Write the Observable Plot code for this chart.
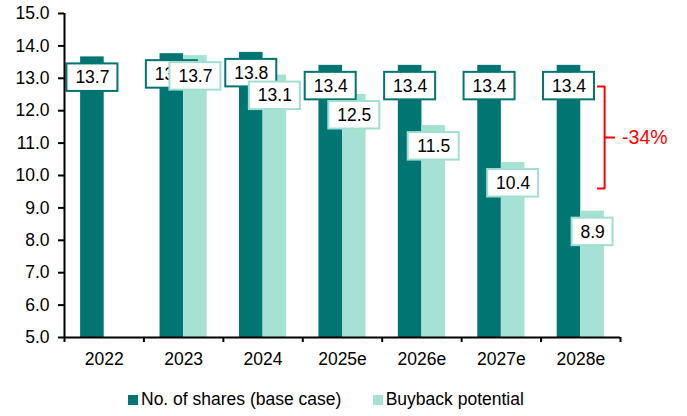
<!DOCTYPE html>
<html>
<head>
<meta charset="utf-8">
<script src="https://cdn.jsdelivr.net/npm/d3@7"></script>
<script src="https://cdn.jsdelivr.net/npm/@observablehq/plot@0.6"></script>
<style>
  html, body { margin: 0; padding: 0; background: #fff; }
  body { font-family: "Liberation Sans", Arial, sans-serif; width: 687px; height: 416px; overflow: hidden; }
  #legend { position: relative; height: 41px; font-size: 17.5px; color: #000; }
  .item { position: absolute; top: 4px; height: 41px; display: flex; align-items: center; white-space: nowrap; }
  .sw { width: 10px; height: 10px; margin-right: 3px; display: inline-block; }
</style>
</head>
<body>
<div id="chart"></div>
<div id="legend"></div>
<script>
// ---- data ----
const years = ["2022", "2023", "2024", "2025e", "2026e", "2027e", "2028e"];
const baseShares = [13.66, 13.76, 13.8, 13.4, 13.4, 13.4, 13.4];
const buybackPotential = [null, 13.7, 13.1, 12.5, 11.54, 10.4, 8.9];
const yTicks = [5, 6, 7, 8, 9, 10, 11, 12, 13, 14, 15];
const seriesNames = ["No. of shares (base case)", "Buyback potential"];
const seriesColors = ["#007571", "#a6e2d3"];
const labelBorders = ["#007571", "#a2ded0"];
const changeLabel = "-34%";
const bracketRange = [12.75, 9.6];

// ---- build ----
const W = 0.297; // bar width in category units
const base = years.map((year, i) => ({i, year, value: baseShares[i], label: baseShares[i].toFixed(1)}));
const buy = years.map((year, i) => ({i, year, value: buybackPotential[i], label: buybackPotential[i] == null ? "" : buybackPotential[i].toFixed(1)}))
  .filter(d => d.value != null);

function labelBoxes(data, cx, border) {
  const wide = data.filter(d => d.label.length >= 4);
  const narrow = data.filter(d => d.label.length < 4);
  const common = {x1: cx, x2: cx, y1: "value", y2: "value", insetTop: 7, insetBottom: -34.5,
                  fill: "white", stroke: border, strokeWidth: 2};
  return [
    Plot.rect(wide, {...common, insetLeft: -25.5, insetRight: -25.5}),
    Plot.rect(narrow, {...common, insetLeft: -20.5, insetRight: -20.5}),
    Plot.text(data, {x: cx, y: "value", text: "label", dy: 20.8, fontSize: 17.5, fill: "#000"})
  ];
}

const mid = (bracketRange[0] + bracketRange[1]) / 2;
const last = years.length - 1;
const bracketPts = [
  {x: last + 0.215, y: bracketRange[0]},
  {x: last + 0.3, y: bracketRange[0]},
  {x: last + 0.3, y: bracketRange[1]},
  {x: last + 0.215, y: bracketRange[1]}
];

const chart = Plot.plot({
  width: 687,
  height: 375,
  marginLeft: 64,
  marginRight: 67,
  marginTop: 13,
  marginBottom: 38,
  x: {domain: [-0.5, years.length - 0.5]},
  y: {domain: [5, 15]},
  style: {fontFamily: "'Liberation Sans', Arial, sans-serif", fontSize: "17.5px", color: "#000", background: "#fff"},
  marks: [
    Plot.rect(base, {x1: d => d.i - W, x2: d => d.i, y1: 5, y2: "value", fill: seriesColors[0]}),
    Plot.rect(buy, {x1: d => d.i, x2: d => d.i + W, y1: 5, y2: "value", fill: seriesColors[1]}),
    ...labelBoxes(base, d => d.i - W / 2, labelBorders[0]),
    ...labelBoxes(buy, d => d.i + W / 2, labelBorders[1]),
    Plot.line(bracketPts, {x: "x", y: "y", stroke: "#ff0000", strokeWidth: 2}),
    Plot.line([{x: last + 0.3, y: mid}, {x: last + 0.42, y: mid}], {x: "x", y: "y", stroke: "#ff0000", strokeWidth: 2}),
    Plot.text([changeLabel], {x: last + 0.52, y: mid, text: d => d, textAnchor: "start", fill: "#ff0000", fontSize: 19.5}),
    Plot.ruleX([-0.5], {y1: 5, y2: 15, stroke: "#000", strokeWidth: 2}),
    Plot.ruleY([5], {x1: -0.5, x2: years.length - 0.5, stroke: "#000", strokeWidth: 2}),
    Plot.axisY({ticks: yTicks, tickFormat: d3.format(".1f"), tickSize: 6, tickPadding: 9, strokeWidth: 2, label: null, fontSize: 17.5}),
    Plot.axisX({ticks: d3.range(-0.5, years.length, 1), tickFormat: () => "", tickSize: 5, strokeWidth: 2, label: null}),
    Plot.axisX({ticks: years.map((_, i) => i), tickFormat: i => years[i], tickSize: 0, tickPadding: 15, label: null, fontSize: 17.5})
  ]
});
document.getElementById("chart").appendChild(chart);

// legend
const legend = document.getElementById("legend");
const legendX = [128, 372.7];
seriesNames.forEach((name, k) => {
  const item = document.createElement("div");
  item.className = "item";
  item.style.left = legendX[k] + "px";
  item.innerHTML = `<span class="sw" style="background:${seriesColors[k]}"></span><span>${name}</span>`;
  legend.appendChild(item);
});
</script>
</body>
</html>
